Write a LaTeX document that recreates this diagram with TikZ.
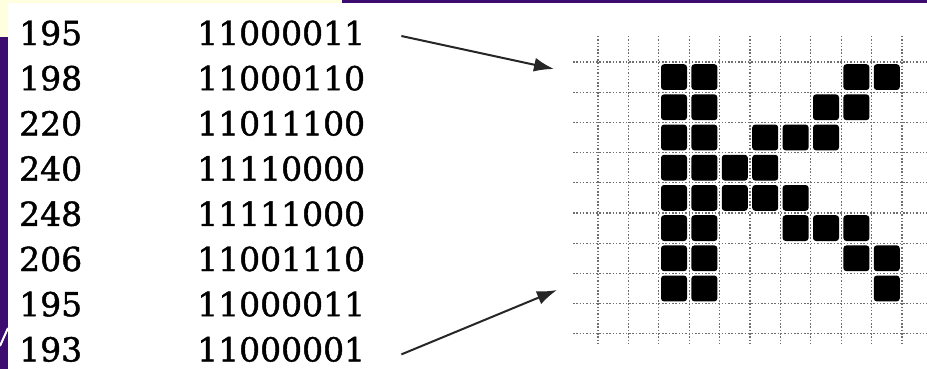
\documentclass[tikz,border=0pt]{standalone}
\usepackage{fontspec}
\setmainfont{DejaVu Serif}[FakeBold=1.3]
\usetikzlibrary{arrows.meta}
\definecolor{bgpurple}{HTML}{3C0C70}
\definecolor{bgcream}{HTML}{FFFFE0}
\definecolor{gridgray}{HTML}{6E6E6E}
\begin{document}
\begin{tikzpicture}[x=1pt,y=-1pt,
  numtext/.style={anchor=west,inner sep=0pt,font=\fontsize{33}{40}\selectfont},
  gridline/.style={draw=gridgray, line width=1.1pt, dash pattern=on 1.5pt off 1.8pt},
  pixel/.style={fill=black, rounded corners=3pt},
  pointer/.style={line width=2pt, draw=black!85, -{Latex[length=20pt,width=14pt]}}]
\useasboundingbox (0,0) rectangle (927,369);
% background
\fill[white] (0,0) rectangle (927,369);
\fill[bgcream] (0,0) rectangle (342,37);
\fill[bgpurple] (342,0) rectangle (927,3);
\fill[bgpurple] (0,37) rectangle (8,369);
\fill[white] (8,3) rectangle (927,369);
\draw[white, line width=2pt] (0,346) -- (8,328);
% table
\foreach \i/\d/\b in {0/195/11000011,1/198/11000110,2/220/11011100,3/240/11110000,
                      4/248/11111000,5/206/11001110,6/195/11000011,7/193/11000001}{
  \node[numtext] (d\i) at (19,{33+45.2*\i}) {\d};
  \node[numtext] (b\i) at (197,{33+45.2*\i}) {\b};
}
% grid
\foreach \k in {0,...,10}
  \draw[gridline] ({598+30.4*\k},36) -- ({598+30.4*\k},345);
\foreach \j in {0,...,9}
  \draw[gridline] (573,{62+30.2*\j}) -- (927,{62+30.2*\j});
% pixels
\foreach \r/\cols in {0/{2,3,8,9},1/{2,3,7,8},2/{2,3,5,6,7},3/{2,3,4,5},
                      4/{2,3,4,5,6},5/{2,3,6,7,8},6/{2,3,8,9},7/{2,3,9}}{
  \foreach \c in \cols
    \fill[pixel] ({598+30.4*\c+2.2},{62+30.2*\r+2.2}) rectangle ++(26,25.8);
}
% arrows
\coordinate (a1s) at ([xshift=36pt,yshift=-3pt]b0.east);
\coordinate (a1e) at (554,69);
\coordinate (a2s) at ([xshift=36pt,yshift=-5pt]b7.east);
\coordinate (a2e) at (557,290);
\draw[pointer] (a1s) -- (a1e);
\draw[pointer] (a2s) -- (a2e);
\end{tikzpicture}
\end{document}
